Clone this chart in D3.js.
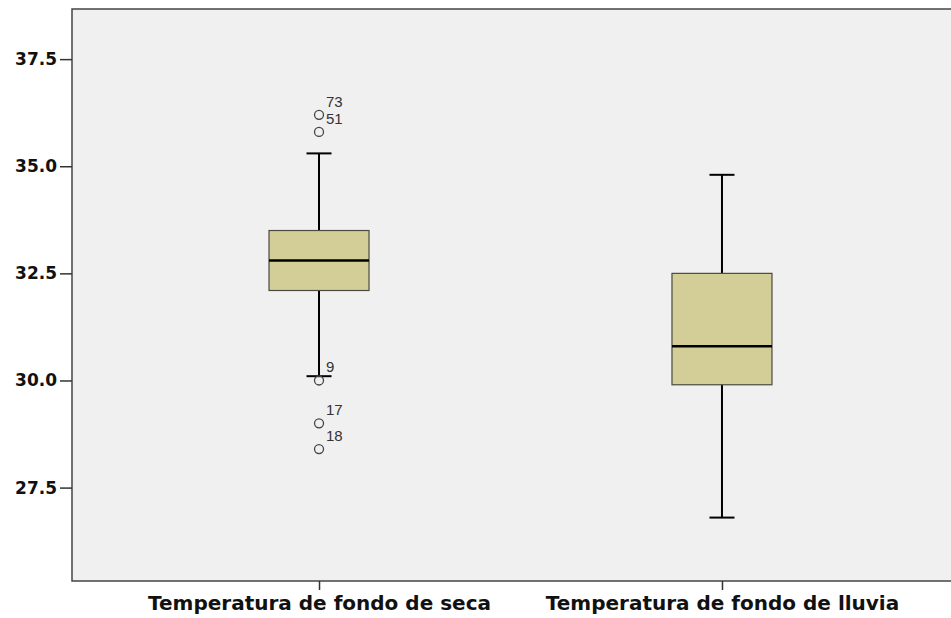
<!DOCTYPE html>
<html>
<head>
<meta charset="utf-8">
<script src="https://cdn.jsdelivr.net/npm/d3@7"></script>
<style>
  body { margin: 0; background: #fff; overflow: hidden; }
  svg { display: block; }
</style>
</head>
<body>
<svg id="chart" width="951" height="618"></svg>
<script>
// boxplot summary
var categories = ['Temperatura de fondo de seca', 'Temperatura de fondo de lluvia']
var whiskerLow = [30.1, 26.8]
var q1 = [32.1, 29.9]
var median = [32.8, 30.8]
var q3 = [33.5, 32.5]
var whiskerHigh = [35.3, 34.8]

// outliers (case numbers as labelled)
var outlierGroup = [0, 0, 0, 0, 0]
var outlierValues = [36.2, 35.8, 30.0, 29.0, 28.4]
var outlierIds = ['73', '51', '9', '17', '18']

var yTicks = [27.5, 30.0, 32.5, 35.0, 37.5]

var svg = d3.select('#chart')
var plotLeft = 72
var plotRight = 969 // plot runs past the window edge, like the original
var plotTop = 9
var plotBottom = 581

var x = d3.scalePoint()
  .domain(categories)
  .range([plotLeft, plotRight])
  .padding(0.613)

var y = d3.scaleLinear()
  .domain([25.32, 38.67])
  .range([plotBottom, plotTop])

var boxWidth = 100
var capWidth = 25

// plot background
svg.append('rect')
  .attr('x', plotLeft)
  .attr('y', plotTop)
  .attr('width', plotRight - plotLeft)
  .attr('height', plotBottom - plotTop)
  .attr('fill', '#f0f0f0')

var data = categories.map(function (c, i) {
  return { cat: c, lo: whiskerLow[i], q1: q1[i], med: median[i], q3: q3[i], hi: whiskerHigh[i] }
})

var g = svg.selectAll('.box')
  .data(data)
  .enter().append('g')
  .attr('class', 'box')

// whisker stems
g.append('line')
  .attr('x1', function (d) { return x(d.cat) })
  .attr('x2', function (d) { return x(d.cat) })
  .attr('y1', function (d) { return y(d.hi) })
  .attr('y2', function (d) { return y(d.lo) })
  .attr('stroke', '#000')
  .attr('stroke-width', 2)

// caps
g.selectAll('.cap')
  .data(function (d) { return [{ cat: d.cat, v: d.hi }, { cat: d.cat, v: d.lo }] })
  .enter().append('line')
  .attr('class', 'cap')
  .attr('x1', function (d) { return x(d.cat) - capWidth / 2 })
  .attr('x2', function (d) { return x(d.cat) + capWidth / 2 })
  .attr('y1', function (d) { return y(d.v) })
  .attr('y2', function (d) { return y(d.v) })
  .attr('stroke', '#000')
  .attr('stroke-width', 2)

g.append('rect')
  .attr('x', function (d) { return x(d.cat) - boxWidth / 2 })
  .attr('y', function (d) { return y(d.q3) })
  .attr('width', boxWidth)
  .attr('height', function (d) { return y(d.q1) - y(d.q3) })
  .attr('fill', '#d3ce98')
  .attr('stroke', '#4a4a40')
  .attr('stroke-width', 1.2)

g.append('line')
  .attr('x1', function (d) { return x(d.cat) - boxWidth / 2 })
  .attr('x2', function (d) { return x(d.cat) + boxWidth / 2 })
  .attr('y1', function (d) { return y(d.med) })
  .attr('y2', function (d) { return y(d.med) })
  .attr('stroke', '#000')
  .attr('stroke-width', 2.5)

// outliers
var outliers = outlierValues.map(function (v, i) {
  return { cat: categories[outlierGroup[i]], v: v, id: outlierIds[i] }
})

svg.selectAll('.out')
  .data(outliers)
  .enter().append('circle')
  .attr('class', 'out')
  .attr('cx', function (d) { return x(d.cat) })
  .attr('cy', function (d) { return y(d.v) })
  .attr('r', 4.5)
  .attr('fill', 'none')
  .attr('stroke', '#444')
  .attr('stroke-width', 1.3)

svg.selectAll('.outlbl')
  .data(outliers)
  .enter().append('text')
  .attr('class', 'outlbl')
  .attr('x', function (d) { return x(d.cat) + 7 })
  .attr('y', function (d) { return y(d.v) - 8 })
  .attr('font-family', 'Liberation Sans, Arial, sans-serif')
  .attr('font-size', 15)
  .attr('fill', '#333')
  .text(function (d) { return d.id })

// frame
svg.append('rect')
  .attr('x', plotLeft)
  .attr('y', plotTop)
  .attr('width', plotRight - plotLeft)
  .attr('height', plotBottom - plotTop)
  .attr('fill', 'none')
  .attr('stroke', '#444')
  .attr('stroke-width', 1.5)

// axes
var yAxis = svg.append('g')
  .attr('transform', 'translate(' + plotLeft + ',0)')
  .call(d3.axisLeft(y).tickValues(yTicks).tickFormat(d3.format('.1f')).tickSize(12).tickPadding(3).tickSizeOuter(0))
yAxis.select('.domain').remove()
yAxis.selectAll('line').attr('stroke', '#333').attr('stroke-width', 1.5)
yAxis.selectAll('text')
  .attr('font-family', 'DejaVu Sans, sans-serif')
  .attr('font-weight', 'bold')
  .attr('font-size', 17)
  .attr('fill', '#111')

var xAxis = svg.append('g')
  .attr('transform', 'translate(0,' + plotBottom + ')')
  .call(d3.axisBottom(x).tickSize(9).tickPadding(6).tickSizeOuter(0))
xAxis.select('.domain').remove()
xAxis.selectAll('line').attr('stroke', '#333').attr('stroke-width', 1.5)
xAxis.selectAll('text')
  .attr('font-family', 'DejaVu Sans, sans-serif')
  .attr('font-weight', 'bold')
  .attr('font-size', 20)
  .attr('fill', '#111')
</script>
</body>
</html>
